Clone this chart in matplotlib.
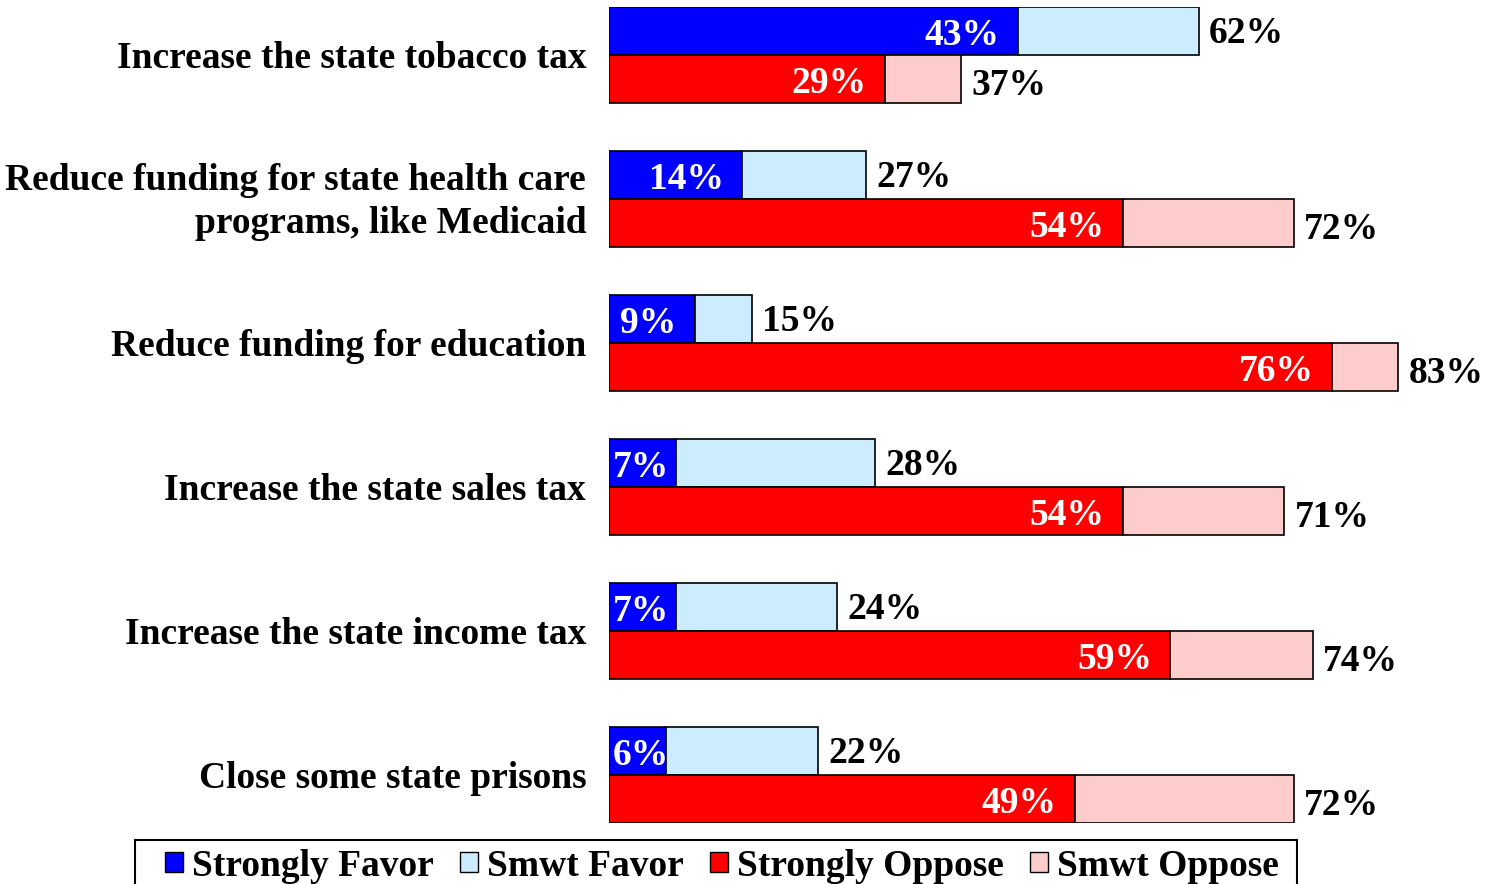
import numpy as np
import matplotlib
matplotlib.use("Agg")
import matplotlib.pyplot as plt
from matplotlib.patches import Patch, Rectangle

plt.rcParams['font.family'] = ['Liberation Serif', 'DejaVu Serif']
plt.rcParams['font.weight'] = 'bold'

categories = [
    "Increase the state tobacco tax",
    "Reduce funding for state health care\nprograms, like Medicaid",
    "Reduce funding for education",
    "Increase the state sales tax",
    "Increase the state income tax",
    "Close some state prisons",
]
strong_favor = [43, 14, 9, 7, 7, 6]
total_favor = [62, 27, 15, 28, 24, 22]
strong_oppose = [29, 54, 76, 54, 59, 49]
total_oppose = [37, 72, 83, 71, 74, 72]

c_sf, c_wf = '#0000FF', '#CCECFF'
c_so, c_wo = '#FF0000', '#FFCCCC'

W, H = 1491, 884
fig = plt.figure(figsize=(W / 100, H / 100), dpi=100)
ax = fig.add_axes([609 / W, (H - 823) / H, (W - 609) / W, 816 / H])
ax.set_xlim(0, (W - 609) / 9.51)
ax.set_ylim(17, 0)
ax.axis('off')

fs = 27


def inner_label(v, y):
    # small segments: the label starts at the bar's left edge
    if v < 8:
        ax.text(0.4, y + 0.29, f"{v}%", color='white', fontsize=fs,
                ha='left', va='baseline', fontweight='bold')
    else:
        ax.text(v - 1.9, y + 0.29, f"{v}%", color='white', fontsize=fs,
                ha='right', va='baseline', fontweight='bold')


for i, cat in enumerate(categories):
    yb = 3 * i + 0.5
    yr = 3 * i + 1.5
    sf, tf = strong_favor[i], total_favor[i]
    so, to = strong_oppose[i], total_oppose[i]
    ax.barh(yb, sf, height=1, color=c_sf, edgecolor='black', linewidth=1.2)
    ax.barh(yb, tf - sf, left=sf, height=1, color=c_wf, edgecolor='black', linewidth=1.2)
    ax.barh(yr, so, height=1, color=c_so, edgecolor='black', linewidth=1.2)
    ax.barh(yr, to - so, left=so, height=1, color=c_wo, edgecolor='black', linewidth=1.2)

    inner_label(sf, yb)
    inner_label(so, yr)
    ax.text(tf + 1.1, yb + 0.24, f"{tf}%", color='black', fontsize=fs,
            ha='left', va='baseline', fontweight='bold')
    ax.text(to + 1.1, yr + 0.34, f"{to}%", color='black', fontsize=fs,
            ha='left', va='baseline', fontweight='bold')

    ax.text(-2.4, 3 * i + 1.07, cat, fontsize=fs, ha='right', va='center',
            fontweight='bold', linespacing=1.3, clip_on=False)

# legend with a hand-placed frame (runs off the bottom edge)
fig.patches.append(Rectangle((135 / W, -0.02), (1297 - 135) / W, (H - 840) / H + 0.02,
                             transform=fig.transFigure, facecolor='white',
                             edgecolor='black', linewidth=1.5, zorder=0))
handles = [Patch(facecolor=c, edgecolor='black') for c in (c_sf, c_wf, c_so, c_wo)]
labels = ["Strongly Favor", "Smwt Favor", "Strongly Oppose", "Smwt Oppose"]
leg = fig.legend(handles, labels, loc='center left', bbox_to_anchor=(165 / W, 1 - 866 / H),
                 ncol=4, fontsize=fs, frameon=False,
                 handlelength=0.47, handleheight=0.47, handletextpad=0.25, columnspacing=0.7,
                 borderpad=0, borderaxespad=0)

fig.savefig('out.png', dpi=100)
